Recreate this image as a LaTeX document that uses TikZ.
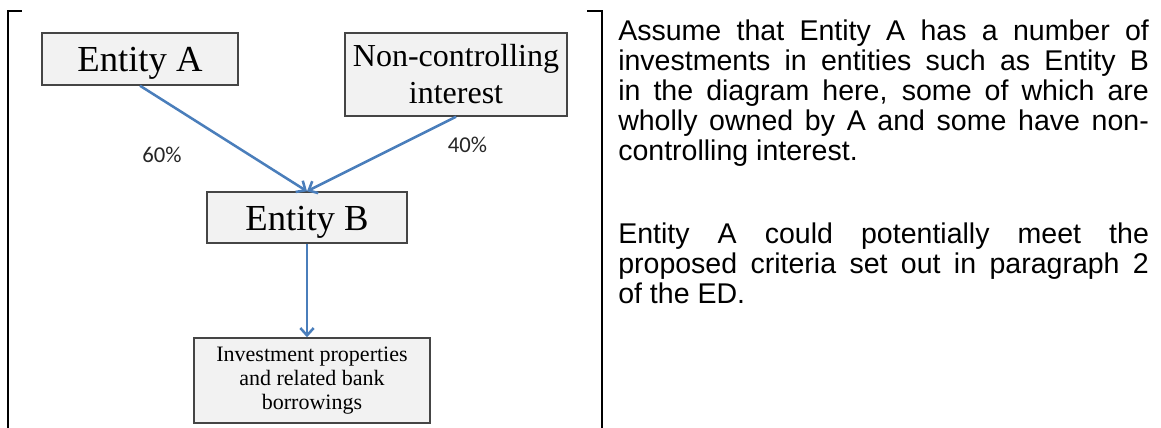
\documentclass[tikz,border=0pt]{standalone}
\usepackage{fontspec}
\setmainfont{Liberation Serif}
\newfontfamily\arialfont{Liberation Sans}
\newfontfamily\calibrifont{Carlito}
\usetikzlibrary{arrows.meta}
\definecolor{boxFill}{HTML}{F2F2F2}
\definecolor{boxLine}{HTML}{454545}
\definecolor{ownBlue}{HTML}{4A7EBB}
\begin{document}
\begin{tikzpicture}[x=0.75pt, y=-0.75pt,
  entity/.style={rectangle, draw=boxLine, fill=boxFill, line width=1.1pt, inner sep=0pt},
  own/.style={draw=ownBlue, line width=1.9pt, -{Straight Barb[length=5.5pt,width=10pt]}},
  pct/.style={draw=none, font=\calibrifont\fontsize{17}{18}\selectfont, text=black!85}]
\useasboundingbox (0,0) rectangle (1161,428);
%%%%%%%%%%%%%%%%%%%%%%%%%%%%%%% table cell borders
\draw[line width=1.8pt] (8,428) -- (8,11) -- (22,11);
\draw[line width=1.8pt] (587,11) -- (602,11) -- (602,428);
%%%%%%%%%%%%%%%%%%%%%%%%%%%%%%% ownership structure
\node[entity, minimum width=147pt, minimum height=39pt, text height=20pt, text depth=0.5pt,
  font=\fontsize{27.5}{30}\selectfont](entityA) at (140,59){Entity A};
\node[entity, minimum width=166.5pt, minimum height=62.25pt, align=center,
  font=\fontsize{24}{27.75}\selectfont](nonCtrl) at (456,74.5){Non-controlling\\interest};
\node[entity, minimum width=150pt, minimum height=38.25pt, text height=20pt, text depth=0.5pt,
  font=\fontsize{27.5}{30}\selectfont](entityB) at (307,217.5){Entity B};
\node[entity, minimum width=177pt, minimum height=63.75pt, align=center,
  font=\fontsize{16.5}{18}\selectfont](invProps) at (312,380.5){Investment properties\\and related bank\\borrowings};
\draw[own] (entityA.south) -- (entityB.north);
\draw[own] (nonCtrl.south) -- (entityB.north);
\draw[own] (entityB.south) -- (entityB.south |- invProps.north);
\node[pct](pctSixty) at (162,154.5){60\%};
\node[pct](pctForty) at (467.5,144.5){40\%};
%%%%%%%%%%%%%%%%%%%%%%%%%%%%%%% explanatory text
\node[draw=none, anchor=north west, inner sep=0pt, text width=398pt, align=justify,
  font=\arialfont\fontsize{21.4}{22.4}\selectfont](note) at (618,20){\hyphenpenalty=10000
  Assume that Entity A has a number of\linebreak
  investments in entities such as Entity B\linebreak
  in the diagram here, some of which are\linebreak
  wholly owned by A and some have non-\linebreak
  controlling interest.\par\vspace{40pt}
  Entity A could potentially meet the\linebreak
  proposed criteria set out in paragraph 2\linebreak
  of the ED.};
\end{tikzpicture}
\end{document}
